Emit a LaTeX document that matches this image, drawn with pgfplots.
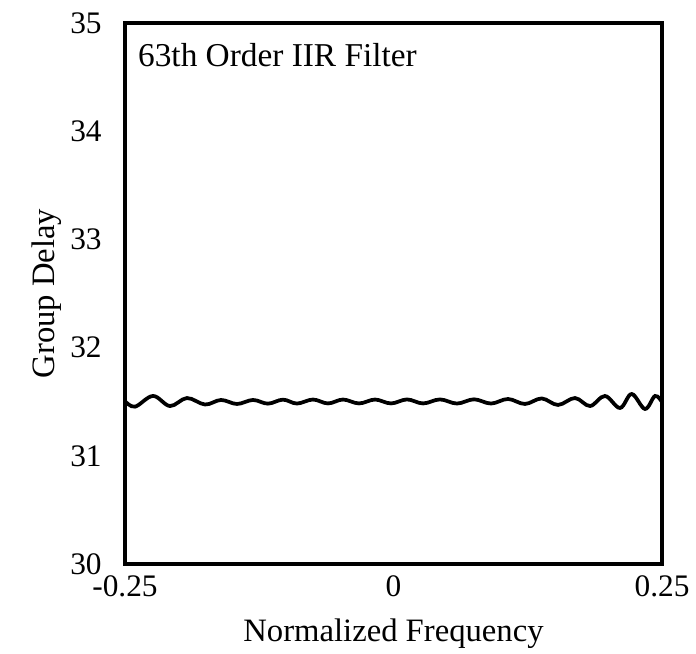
\documentclass[border=0pt]{standalone}
\usepackage{fontspec}
\setmainfont{Liberation Serif}
\usepackage{pgfplots}
\pgfplotsset{compat=1.18}
\begin{document}
\begin{tikzpicture}
\begin{axis}[
  width=402.75pt, height=405.75pt, scale only axis,
  xmin=-0.25, xmax=0.25, ymin=30, ymax=35,
  xtick={-0.25,0,0.25}, xticklabels={-0.25,0,0.25},
  ytick={30,31,32,33,34,35},
  major tick length=0pt,
  axis line style={line width=2.8pt},
  /pgf/number format/assume math mode=true,
  tick label style={font=\fontsize{23.5}{26}\selectfont},
  xticklabel style={yshift=-5pt},
  yticklabel style={xshift=-14pt},
  label style={font=\fontsize{24.5}{28}\selectfont},
  xlabel={Normalized Frequency},
  ylabel={Group Delay},
  xlabel style={yshift=-10pt},
  ylabel style={yshift=0pt},
  clip=false,
]
\addplot[black, line width=2.8pt, smooth, tension=0.6] coordinates {
(-0.25,31.505)
(-0.2407,31.454)
(-0.2239,31.553)
(-0.2081,31.460)
(-0.1923,31.534)
(-0.1755,31.474)
(-0.1606,31.516)
(-0.1457,31.479)
(-0.1308,31.516)
(-0.1169,31.482)
(-0.1029,31.519)
(-0.0899,31.483)
(-0.0750,31.520)
(-0.0610,31.484)
(-0.0470,31.520)
(-0.0321,31.484)
(-0.0172,31.520)
(-0.0023,31.484)
(0.0126,31.521)
(0.0275,31.484)
(0.0433,31.521)
(0.0591,31.483)
(0.0750,31.522)
(0.0908,31.483)
(0.1066,31.525)
(0.1224,31.479)
(0.1380,31.530)
(0.1532,31.470)
(0.1690,31.534)
(0.1830,31.460)
(0.1969,31.553)
(0.2109,31.442)
(0.2218,31.571)
(0.2342,31.433)
(0.2435,31.553)
(0.25,31.497)
};
\node[anchor=west, font=\fontsize{25}{28}\selectfont, inner sep=0pt] at (rel axis cs:0.024,0.941) {63th Order IIR Filter};
\end{axis}
\path (current axis.south west) +(-93.75pt,-65.25pt) (current axis.north east) +(25.5pt,17.25pt);
\end{tikzpicture}
\end{document}
